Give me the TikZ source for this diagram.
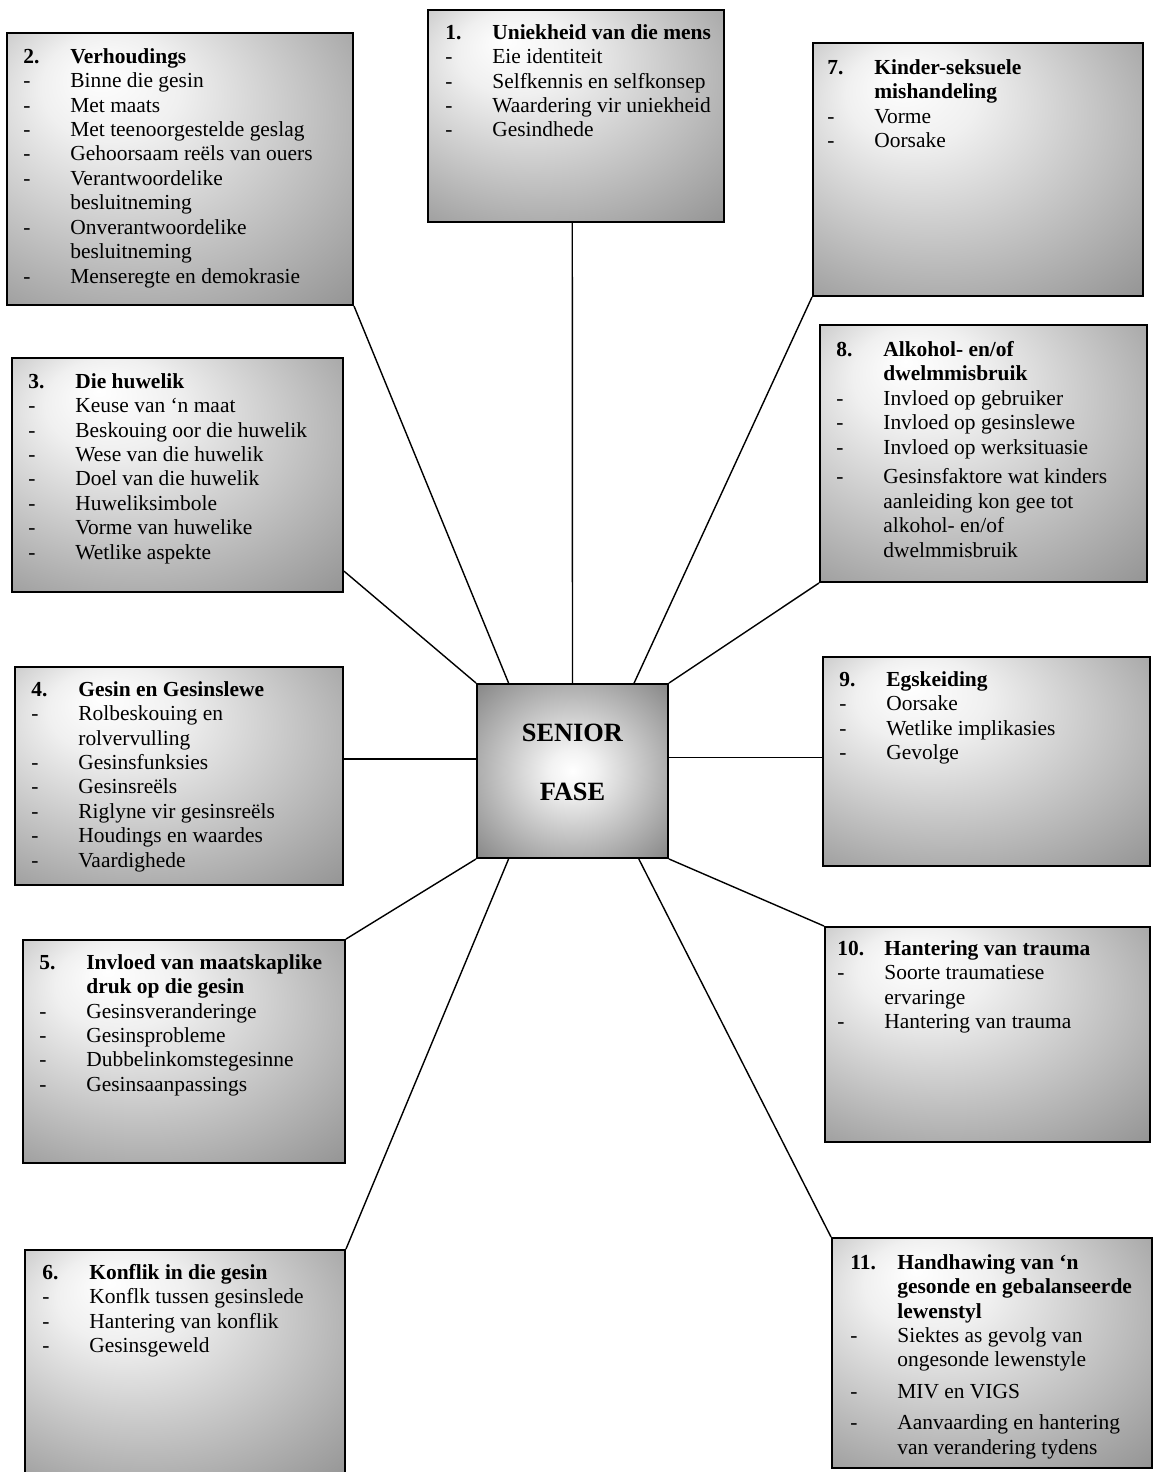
\documentclass[tikz,border=0pt]{standalone}
\usepackage{fontspec}
\setmainfont{Liberation Serif}
\usetikzlibrary{fit}

\pgfdeclareradialshading{topicglow}{\pgfpoint{-12bp}{18bp}}{color(0bp)=(white); color(10bp)=(black!6); color(42bp)=(black!42); color(60bp)=(black!52)}
\pgfdeclareradialshading{hubglow}{\pgfpoint{0bp}{0bp}}{color(0bp)=(white); color(6bp)=(black!5); color(36bp)=(black!48); color(50bp)=(black!55)}

\newlength{\numcol}\setlength{\numcol}{0.94cm}
\newcommand{\hd}[2]{\makebox[\numcol][l]{\textbf{#1}}\textbf{#2}}
\newcommand{\hdmore}[1]{\hspace*{\numcol}\textbf{#1}}
\newcommand{\itm}[1]{\makebox[\numcol][l]{-}#1}
\newcommand{\more}[1]{\hspace*{\numcol}#1}

\tikzset{
  topic/.style={draw, line width=1.1pt, shade, shading=topicglow, inner sep=0pt},
  topictext/.style={anchor=north west, inner sep=0pt, align=left,
    font=\fontsize{12.2}{13.9}\selectfont},
  hub/.style={draw, line width=1.1pt, shade, shading=hubglow, inner sep=0pt,
    align=center, font=\fontsize{15}{17}\selectfont\bfseries},
}

\begin{document}
\begin{tikzpicture}[x=0.02cm, y=-0.02cm]
  \useasboundingbox (0,0) rectangle (1155,1472);
  % middel
  \node[hub, fit={(477,684) (668,858)}] (hub) {SENIOR\\[17pt]FASE};
  % linkerkant
  \node[topic, fit={(7,33) (353,305)}] (verhoud) {};
  \node[topictext] (verhoud-t) at ([shift={(17,16)}]verhoud.north west) {%
    \hd{2.}{Verhoudings}\\
    \itm{Binne die gesin}\\
    \itm{Met maats}\\
    \itm{Met teenoorgestelde geslag}\\
    \itm{Gehoorsaam reëls van ouers}\\
    \itm{Verantwoordelike}\\
    \more{besluitneming}\\
    \itm{Onverantwoordelike}\\
    \more{besluitneming}\\
    \itm{Menseregte en demokrasie}};
  \node[topic, fit={(12,358) (343,592)}] (huwelik) {};
  \node[topictext] (huwelik-t) at ([shift={(17,16)}]huwelik.north west) {%
    \hd{3.}{Die huwelik}\\
    \itm{Keuse van ‘n maat}\\
    \itm{Beskouing oor die huwelik}\\
    \itm{Wese van die huwelik}\\
    \itm{Doel van die huwelik}\\
    \itm{Huweliksimbole}\\
    \itm{Vorme van huwelike}\\
    \itm{Wetlike aspekte}};
  \node[topic, fit={(15,667) (343,885)}] (gesin) {};
  \node[topictext] (gesin-t) at ([shift={(17,15)}]gesin.north west) {%
    \hd{4.}{Gesin en Gesinslewe}\\
    \itm{Rolbeskouing en}\\
    \more{rolvervulling}\\
    \itm{Gesinsfunksies}\\
    \itm{Gesinsreëls}\\
    \itm{Riglyne vir gesinsreëls}\\
    \itm{Houdings en waardes}\\
    \itm{Vaardighede}};
  \node[topic, fit={(23,940) (345,1163)}] (druk) {};
  \node[topictext] (druk-t) at ([shift={(17,15)}]druk.north west) {%
    \hd{5.}{Invloed van maatskaplike}\\
    \hdmore{druk op die gesin}\\
    \itm{Gesinsveranderinge}\\
    \itm{Gesinsprobleme}\\
    \itm{Dubbelinkomstegesinne}\\
    \itm{Gesinsaanpassings}};
  \node[topic, fit={(25,1250) (345,1480)}] (konflik) {};
  \node[topictext] (konflik-t) at ([shift={(18,15)}]konflik.north west) {%
    \hd{6.}{Konflik in die gesin}\\
    \itm{Konflk tussen gesinslede}\\
    \itm{Hantering van konflik}\\
    \itm{Gesinsgeweld}};
  % boonste en regterkant
  \node[topic, fit={(428,10) (724,222)}] (uniek) {};
  \node[topictext] (uniek-t) at ([shift={(18,15)}]uniek.north west) {%
    \hd{1.}{Uniekheid van die mens}\\
    \itm{Eie identiteit}\\
    \itm{Selfkennis en selfkonsep}\\
    \itm{Waardering vir uniekheid}\\
    \itm{Gesindhede}};
  \node[topic, fit={(813,43) (1143,296)}] (mishand) {};
  \node[topictext] (mishand-t) at ([shift={(15,17)}]mishand.north west) {%
    \hd{7.}{Kinder-seksuele}\\
    \hdmore{mishandeling}\\
    \itm{Vorme}\\
    \itm{Oorsake}};
  \node[topic, fit={(820,325) (1147,582)}] (alkohol) {};
  \node[topictext] (alkohol-t) at ([shift={(17,17)}]alkohol.north west) {%
    \hd{8.}{Alkohol- en/of}\\
    \hdmore{dwelmmisbruik}\\
    \itm{Invloed op gebruiker}\\
    \itm{Invloed op gesinslewe}\\
    \itm{Invloed op werksituasie}\\[3pt]
    \itm{Gesinsfaktore wat kinders}\\
    \more{aanleiding kon gee tot}\\
    \more{alkohol- en/of}\\
    \more{dwelmmisbruik}};
  \node[topic, fit={(823,657) (1150,866)}] (egskeid) {};
  \node[topictext] (egskeid-t) at ([shift={(17,15)}]egskeid.north west) {%
    \hd{9.}{Egskeiding}\\
    \itm{Oorsake}\\
    \itm{Wetlike implikasies}\\
    \itm{Gevolge}};
  \node[topic, fit={(825,927) (1150,1142)}] (trauma) {};
  \node[topictext] (trauma-t) at ([shift={(13,14)}]trauma.north west) {%
    \hd{10.}{Hantering van trauma}\\
    \itm{Soorte traumatiese}\\
    \more{ervaringe}\\
    \itm{Hantering van trauma}};
  \node[topic, fit={(832,1238) (1152,1468)}] (lewenstyl) {};
  \node[topictext] (lewenstyl-t) at ([shift={(19,17)}]lewenstyl.north west) {%
    \hd{11.}{Handhawing van ‘n}\\
    \hdmore{gesonde en gebalanseerde}\\
    \hdmore{lewenstyl}\\
    \itm{Siektes as gevolg van}\\
    \more{ongesonde lewenstyle}\\[4pt]
    \itm{MIV en VIGS}\\[4pt]
    \itm{Aanvaarding en hantering}\\
    \more{van verandering tydens}};
  \begin{scope}[line width=0.8pt]
    \draw (uniek.268) to (hub.90);
    \draw (verhoud.south east) to (hub.126);
    \draw (mishand.south west) to (hub.55);
    \draw (huwelik.330) to (hub.north west);
    \draw (alkohol.south west) to (hub.north east);
    \draw (hub.173) to (hub.173 -| gesin.east);
    \draw (hub.8) to (hub.8 -| egskeid.west);
    \draw (druk.north east) to (hub.south west);
    \draw (trauma.north west) to (hub.south east);
    \draw (konflik.north east) to (hub.234);
    \draw (lewenstyl.north west) to (hub.307);
  \end{scope}
\end{tikzpicture}
\end{document}
